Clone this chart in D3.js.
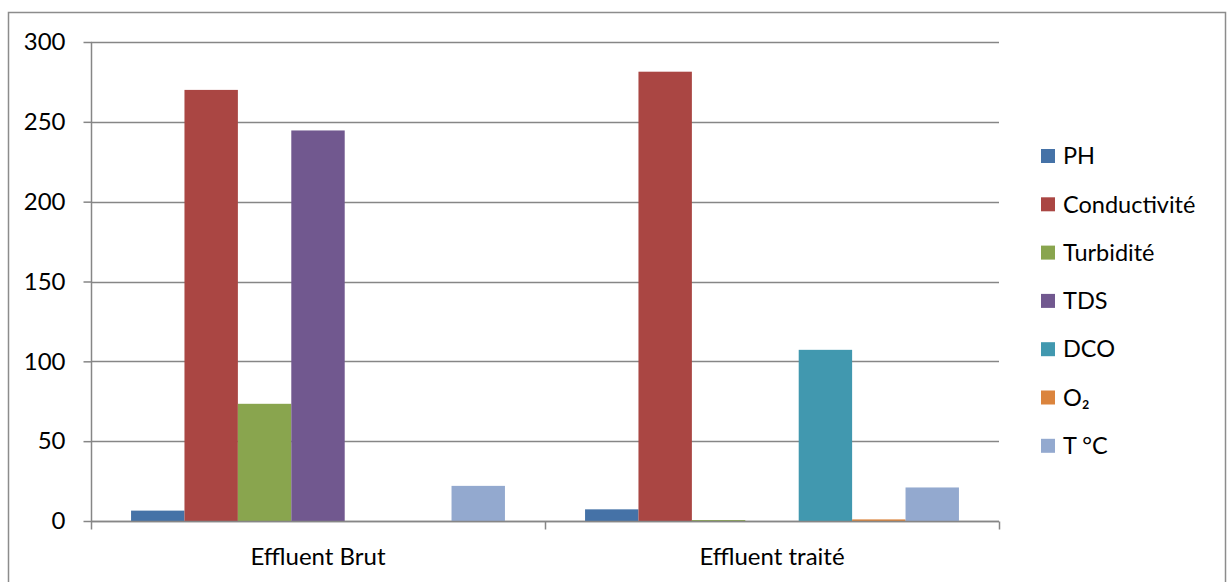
<!DOCTYPE html>
<html>
<head>
<meta charset="utf-8">
<script src="https://cdn.jsdelivr.net/npm/d3@7"></script>
<style>
  html, body { margin: 0; padding: 0; background: #fff; }
  svg { display: block; }
  text { font-family: Lato, "Open Sans", sans-serif; fill: #000; }
</style>
</head>
<body>
<svg id="chart" width="1231" height="582"></svg>
<script>
// Water quality parameters, raw vs treated effluent
const categories = ["Effluent Brut", "Effluent traité"];
const seriesNames = ["PH", "Conductivité", "Turbidité", "TDS", "DCO", "O₂", "T °C"];
const seriesColors = ["#4572A7", "#AA4643", "#89A54E", "#71588F", "#4198AF", "#DB843D", "#93A9CF"];
const valuesPH = [6.5, 7.3];
const valuesConductivite = [270, 281.4];
const valuesTurbidite = [73.4, 0.6];
const valuesTDS = [244.6, 0];
const valuesDCO = [0, 107.2];
const valuesO2 = [0, 1];
const valuesTC = [22, 21];
const yTicks = [0, 50, 100, 150, 200, 250, 300];

const seriesValues = [valuesPH, valuesConductivite, valuesTurbidite, valuesTDS, valuesDCO, valuesO2, valuesTC];

const svg = d3.select("#chart");
const plot = { left: 91, right: 999, top: 42, bottom: 521 };

// Outer chart frame
svg.append("rect")
  .attr("x", 8.5).attr("y", 12.5)
  .attr("width", 1217).attr("height", 580)
  .attr("fill", "none").attr("stroke", "#8c8c8c").attr("stroke-width", 1.5);

const y = d3.scaleLinear().domain([0, 300]).range([plot.bottom, plot.top]);
const x0 = d3.scaleBand().domain(categories).range([plot.left, plot.right]).padding(0);
// 150% gap between clusters: 0.75 bar width on each side
const x1 = d3.scaleBand().domain(seriesNames)
  .range([0, x0.bandwidth()])
  .paddingInner(0)
  .paddingOuter(0.75);

// Horizontal gridlines
svg.append("g")
  .selectAll("line")
  .data(yTicks)
  .join("line")
  .attr("x1", plot.left).attr("x2", plot.right)
  .attr("y1", d => Math.round(y(d)) + 0.5).attr("y2", d => Math.round(y(d)) + 0.5)
  .attr("stroke", "#868686").attr("stroke-width", 1.5);

// Bars
const groups = svg.append("g")
  .selectAll("g")
  .data(categories)
  .join("g")
  .attr("transform", d => `translate(${x0(d)},0)`);

groups.selectAll("rect")
  .data((c, ci) => seriesNames.map((s, si) => ({ s, si, v: seriesValues[si][ci] })))
  .join("rect")
  .attr("x", d => x1(d.s))
  .attr("width", x1.bandwidth())
  .attr("y", d => y(d.v))
  .attr("height", d => y(0) - y(d.v))
  .attr("fill", d => seriesColors[d.si]);

// Y axis
const yAxis = d3.axisLeft(y).tickValues(yTicks).tickSize(8).tickPadding(18);
const yg = svg.append("g").attr("transform", `translate(${plot.left + 0.5},0)`).call(yAxis);
yg.select(".domain").attr("stroke", "#868686").attr("stroke-width", 1.5).attr("d", `M0,${plot.top}V${plot.bottom}`);
yg.selectAll(".tick line").attr("stroke", "#868686").attr("stroke-width", 1.5);
yg.selectAll(".tick text").style("font-size", "24px").attr("fill", "#000");

// X axis with category separators
const xg = svg.append("g").attr("transform", `translate(0,${plot.bottom + 0.5})`);
xg.append("line")
  .attr("x1", plot.left).attr("x2", plot.right)
  .attr("stroke", "#868686").attr("stroke-width", 1.5);
const sepPositions = categories.map(c => x0(c)).concat([x0(categories[categories.length - 1]) + x0.bandwidth()]);
xg.selectAll("line.sep")
  .data(sepPositions)
  .join("line")
  .attr("class", "sep")
  .attr("x1", d => d + 0.5).attr("x2", d => d + 0.5)
  .attr("y1", 0).attr("y2", 8)
  .attr("stroke", "#868686").attr("stroke-width", 1.5);
xg.selectAll("text")
  .data(categories)
  .join("text")
  .attr("x", d => x0(d) + x0.bandwidth() / 2)
  .attr("y", 43)
  .attr("text-anchor", "middle")
  .style("font-size", "24px")
  .text(d => d);

// Legend
const legend = svg.append("g");
const legendTop = 156, legendStep = 48.3;
const items = legend.selectAll("g")
  .data(seriesNames)
  .join("g")
  .attr("transform", (d, i) => `translate(1041,${legendTop + i * legendStep})`);
items.append("rect")
  .attr("x", 0).attr("y", -7)
  .attr("width", 14).attr("height", 14)
  .attr("fill", (d, i) => seriesColors[i]);
items.append("text")
  .attr("x", 22).attr("y", 0)
  .attr("dy", "0.35em")
  .style("font-size", "23.5px")
  .text(d => d);
</script>
</body>
</html>
